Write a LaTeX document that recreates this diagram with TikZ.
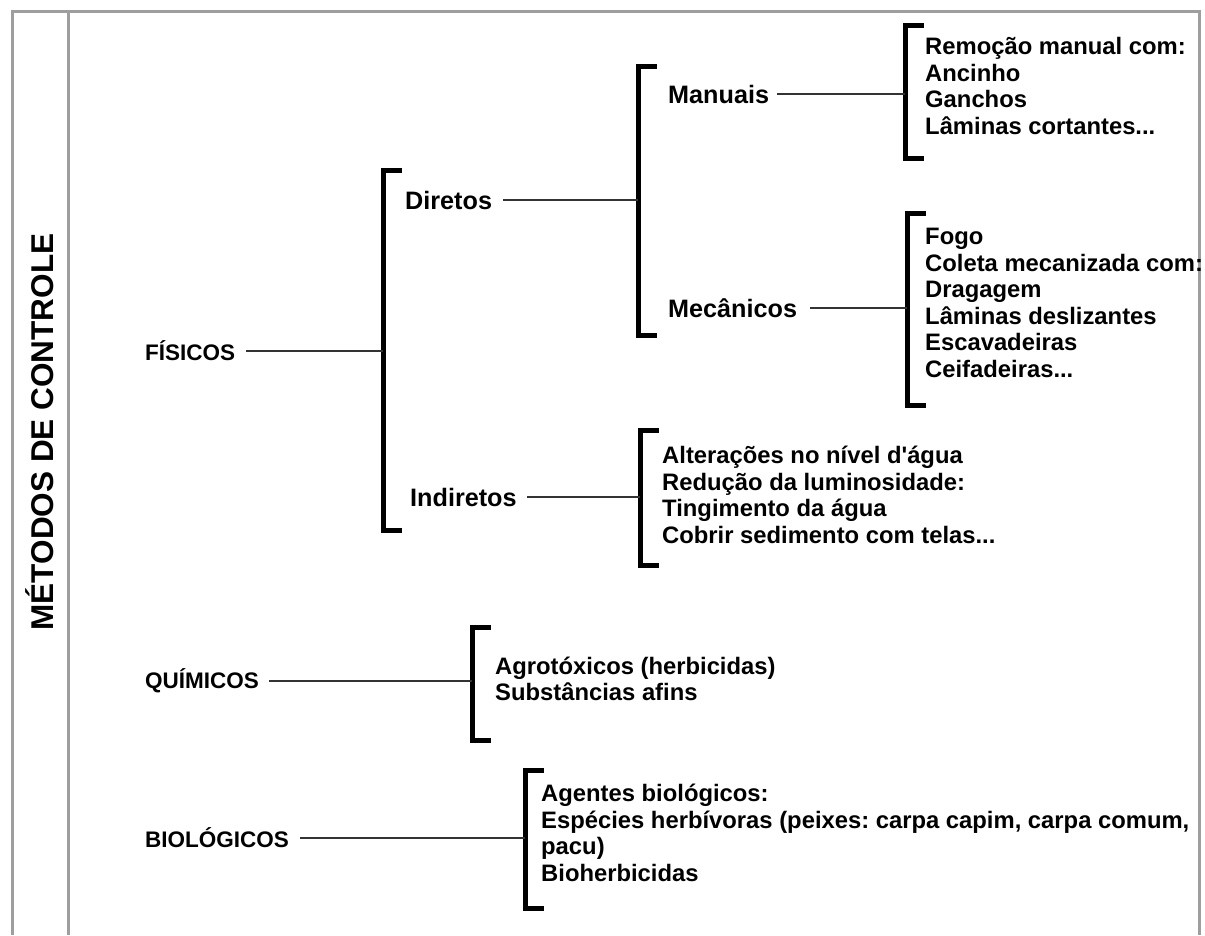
\documentclass[tikz,border=0pt]{standalone}
\usepackage{fontspec}
\setmainfont{Liberation Sans}
\frenchspacing
\begin{document}
\begin{tikzpicture}[x=1pt,y=-1pt,
  frame/.style={draw=black!38,line width=3pt},
  brk/.style={draw=black,line width=5pt,line join=miter,line cap=rect},
  conn/.style={draw=black!80,line width=1.6pt},
  lab/.style={anchor=west,inner sep=0pt,font=\fontsize{25.2}{28}\selectfont\bfseries},
  caps/.style={anchor=west,inner sep=0pt,font=\fontsize{22.5}{28}\selectfont\bfseries},
  lst/.style={anchor=west,inner sep=0pt,align=left,font=\fontsize{23.8}{26.5}\selectfont\bfseries},
  ttl/.style={rotate=90,inner sep=0pt,font=\fontsize{31.5}{34}\selectfont\bfseries}]
\useasboundingbox (0,0) rectangle (1205,935);
\fill[white] (0,0) rectangle (1205,935);
% frame
\draw[frame] (12,935) -- (12,11) -- (1199,11) -- (1199,935);
\draw[frame] (68,11) -- (68,935);
\node[ttl] (title) at (40,432) {MÉTODOS DE CONTROLE};
% bracket corners
\coordinate (b1t) at (383,170); \coordinate (b1b) at (383,530);
\coordinate (b2t) at (638,66);  \coordinate (b2b) at (638,335);
\coordinate (b3t) at (905,25);  \coordinate (b3b) at (905,158);
\coordinate (b4t) at (907,213); \coordinate (b4b) at (907,405);
\coordinate (b5t) at (640,430); \coordinate (b5b) at (640,565);
\coordinate (b6t) at (472,627); \coordinate (b6b) at (472,740);
\coordinate (b7t) at (525,770); \coordinate (b7b) at (525,908);
\foreach \b in {b1,b2,b3,b4,b5,b6,b7}{
  \draw[brk] ([xshift=16pt]\b t) -- (\b t) -- (\b b) -- ([xshift=16pt]\b b);
}
% labels
\node[caps] (fis) at (145,351) {FÍSICOS};
\node[lab] (dir) at (405,200) {Diretos};
\node[lab] (ind) at (410,497) {Indiretos};
\node[lab] (man) at (668,94) {Manuais};
\node[lab] (mec) at (668,308) {Mecânicos};
\node[caps] (qui) at (145,681) {QUÍMICOS};
\node[caps] (bio) at (145,838) {BIOLÓGICOS};
% lists
\node[lst] (lman) at (925,86) {Remoção manual com:\\Ancinho\\Ganchos\\Lâminas cortantes...};
\node[lst] (lmec) at (925,303) {Fogo\\Coleta mecanizada com:\\Dragagem\\Lâminas deslizantes\\Escavadeiras\\Ceifadeiras...};
\node[lst] (lind) at (662,495) {Alterações no nível d\textquotesingle água\\Redução da luminosidade:\\Tingimento da água\\Cobrir sedimento com telas...};
\node[lst] (lqui) at (495,679) {Agrotóxicos (herbicidas)\\Substâncias afins};
\node[lst] (lbio) at (541,833) {Agentes biológicos:\\Espécies herbívoras (peixes: carpa capim, carpa comum,\\pacu)\\Bioherbicidas};
% connectors
\draw[conn] ([xshift=11pt]fis.east) -- (fis.east -| b1t);
\draw[conn] ([xshift=11pt]dir.east) -- (dir.east -| b2t);
\draw[conn] ([xshift=10pt]ind.east) -- (ind.east -| b5t);
\draw[conn] ([xshift=8pt]man.east) -- (man.east -| b3t);
\draw[conn] ([xshift=13pt]mec.east) -- (mec.east -| b4t);
\draw[conn] ([xshift=10pt]qui.east) -- (qui.east -| b6t);
\draw[conn] ([xshift=11pt]bio.east) -- (bio.east -| b7t);
\end{tikzpicture}
\end{document}
